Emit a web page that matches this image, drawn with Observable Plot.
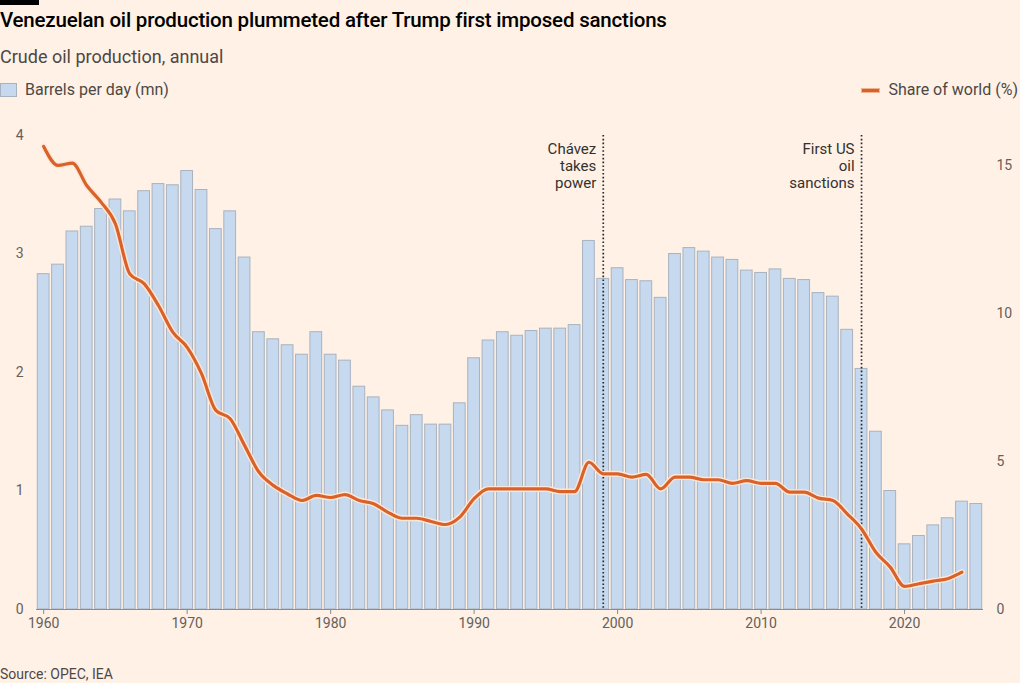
<!DOCTYPE html>
<html>
<head>
<meta charset="utf-8">
<script src="https://cdn.jsdelivr.net/npm/d3@7"></script>
<script src="https://cdn.jsdelivr.net/npm/@observablehq/plot@0.6"></script>
<style>
  html, body { margin: 0; padding: 0; background: #fff1e5; }
  body { width: 1020px; height: 683px; position: relative; overflow: hidden; font-family: Roboto, "Open Sans", sans-serif; color: #33302e; }
  .bar { position: absolute; left: 0; top: 0; width: 39px; height: 5px; background: #000; }
  .title { position: absolute; left: 0; top: 7px; font-size: 20.5px; line-height: 26px; font-weight: 500; color: #000; letter-spacing: -0.2px; white-space: nowrap; }
  .subtitle { position: absolute; left: 0; top: 45px; font-size: 18px; line-height: 24px; color: #4d4845; white-space: nowrap; }
  .legend { position: absolute; top: 80px; font-size: 16px; line-height: 20px; color: #4d4845; white-space: nowrap; display: flex; align-items: center; }
  .sw-bar { display: inline-block; width: 15px; height: 12px; background: #c6d9ef; border: 1px solid #a9b3bf; margin-right: 8px; }
  .sw-line { display: inline-block; width: 17px; height: 3px; background: #d9622b; border: 1px solid #f0b58f; margin-right: 8px; }
  #chart { position: absolute; left: 0; top: 110px; }
  .source { position: absolute; left: 0; top: 664px; font-size: 14px; line-height: 20px; color: #4d4845; white-space: nowrap; }
</style>
</head>
<body>
<div class="bar"></div>
<div class="title">Venezuelan oil production plummeted after Trump first imposed sanctions</div>
<div class="subtitle">Crude oil production, annual</div>
<div class="legend" style="left:0"><span class="sw-bar"></span>Barrels per day (mn)</div>
<div class="legend" style="right:2px"><span class="sw-line"></span>Share of world (%)</div>
<div id="chart"></div>
<div class="source">Source: OPEC, IEA</div>
<script>
// Bars: barrels per day (mn), 1960–2025
const barYears = d3.range(1960, 2026);
const barrels = [
  2.83, 2.91, 3.19, 3.23, 3.38, 3.46, 3.36, 3.53, 3.59, 3.58,
  3.70, 3.54, 3.21, 3.36, 2.97, 2.34, 2.28, 2.23, 2.15, 2.34,
  2.15, 2.10, 1.88, 1.79, 1.68, 1.55, 1.64, 1.56, 1.56, 1.74,
  2.12, 2.27, 2.34, 2.31, 2.35, 2.37, 2.37, 2.40, 3.11, 2.79,
  2.88, 2.78, 2.77, 2.63, 3.00, 3.05, 3.02, 2.97, 2.95, 2.86,
  2.84, 2.87, 2.79, 2.78, 2.67, 2.64, 2.36, 2.03, 1.50, 1.00,
  0.55, 0.62, 0.71, 0.77, 0.91, 0.89
];
// Line: share of world production (%), 1960–2024
const shareYears = d3.range(1960, 2025);
const shareOfWorld = [
  15.63, 14.99, 15.07, 14.31, 13.75, 13.02, 11.33, 11.00, 10.26, 9.36,
  8.85, 7.96, 6.72, 6.44, 5.54, 4.64, 4.19, 3.90, 3.68, 3.85,
  3.78, 3.88, 3.68, 3.57, 3.28, 3.08, 3.08, 2.97, 2.87, 3.12,
  3.74, 4.07, 4.07, 4.07, 4.07, 4.07, 3.98, 3.98, 4.97, 4.58,
  4.58, 4.47, 4.56, 4.07, 4.47, 4.47, 4.38, 4.38, 4.26, 4.35,
  4.26, 4.26, 3.96, 3.96, 3.76, 3.68, 3.23, 2.72, 1.93, 1.43,
  0.78, 0.87, 0.96, 1.04, 1.26
];
const eventYears = [1999, 2017];
const eventLabels = ["Chávez\ntakes\npower", "First US\noil\nsanctions"];
const xTicks = [1960, 1970, 1980, 1990, 2000, 2010, 2020];
const leftTicks = [0, 1, 2, 3, 4];
const rightTicks = [0, 5, 10, 15];

const ratio = 4; // share axis max 16 maps to barrels axis max 4
const bars = barYears.map((year, i) => ({year, value: barrels[i]}));
const shares = shareYears.map((year, i) => ({year, value: shareOfWorld[i] / ratio}));
const events = eventYears.map((year, i) => ({year, label: eventLabels[i]}));

const plot = Plot.plot({
  width: 1020,
  height: 529,
  marginTop: 25,
  marginBottom: 30,
  marginLeft: 36,
  marginRight: 37,
  style: {background: "transparent", fontFamily: "Roboto, sans-serif"},
  x: {domain: [1959.5, 2025.5]},
  y: {domain: [0, 4]},
  marks: [
    Plot.rectY(bars, {x1: d => d.year - 0.41, x2: d => d.year + 0.41, y: "value", fill: "#c6d9ef", stroke: "#a9b3bf", strokeWidth: 1}),
    Plot.ruleY([0], {stroke: "#8d8a87", strokeWidth: 1}),
    Plot.axisX({ticks: xTicks, tickFormat: d => String(d), tickSize: 5, tickPadding: 4, fontSize: 14, color: "#66605c", stroke: "#8d8a87", label: null}),
    Plot.axisY({ticks: leftTicks, tickFormat: d => String(d), anchor: "left", tickSize: 0, tickPadding: 13, fontSize: 14, color: "#66605c", label: null}),
    Plot.axisY({ticks: rightTicks.map(d => d / ratio), tickFormat: d => String(Math.round(d * ratio)), anchor: "right", tickSize: 0, tickPadding: 13, fontSize: 14, color: "#66605c", label: null}),
    Plot.ruleX(events, {x: "year", stroke: "#262a33", strokeWidth: 1.7, strokeDasharray: "1.6,2.2"}),
    Plot.text(events, {x: "year", text: "label", frameAnchor: "top", lineAnchor: "top", textAnchor: "end", dx: -7, dy: 6, fontSize: 15, lineHeight: 1.15, fill: "#33302e"}),
    Plot.line(shares, {x: "year", y: "value", stroke: "#fde7d6", strokeWidth: 6, curve: "monotone-x"}),
    Plot.line(shares, {x: "year", y: "value", stroke: "#d9622b", strokeWidth: 3.2, curve: "monotone-x"})
  ]
});
document.getElementById("chart").append(plot);
</script>
</body>
</html>
